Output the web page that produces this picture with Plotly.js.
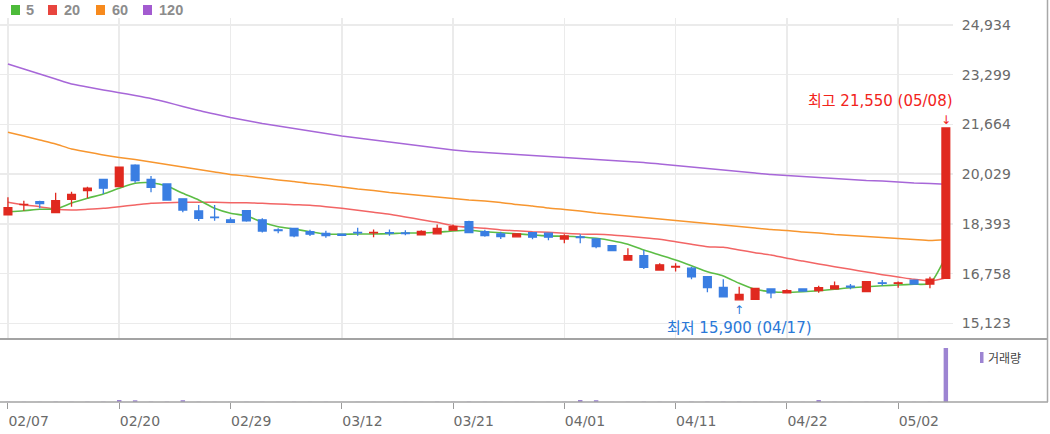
<!DOCTYPE html>
<html>
<head>
<meta charset="utf-8">
<script src="https://cdn.plot.ly/plotly-3.0.1.min.js"></script>
<style>
html,body{margin:0;padding:0;background:#fff;}
#chart{width:1050px;height:434px;}
</style>
</head>
<body>
<div id="chart"></div>
<script>
// ---------------- DATA ----------------
const dates = ['02/07','02/08','02/13','02/14','02/15','02/16','02/19','02/20','02/21','02/22',
  '02/23','02/26','02/27','02/28','02/29','03/04','03/05','03/06','03/07','03/08',
  '03/11','03/12','03/13','03/14','03/15','03/18','03/19','03/20','03/21','03/22',
  '03/25','03/26','03/27','03/28','03/29','04/01','04/02','04/03','04/04','04/05',
  '04/08','04/09','04/11','04/12','04/15','04/16','04/17','04/18','04/19','04/22',
  '04/23','04/24','04/25','04/26','04/29','04/30','05/02','05/03','05/07','05/08'];

const openP = [18690,19030,19130,18770,19200,19490,19860,19620,20330,19860,
  19710,19220,18820,18620,18530,18830,18530,18200,18250,18140,
  18080,18060,18120,18100,18110,18100,18040,18070,18190,18470,
  18140,18070,17970,18110,18090,17900,17970,17900,17680,17210,
  17350,16880,16980,16940,16660,16310,15900,15920,16260,16130,
  16260,16200,16260,16350,16170,16460,16440,16550,16420,16610];

const highP = [19270,19160,19160,19420,19450,19620,19860,20260,20360,19970,
  19710,19220,19020,19020,18610,18830,18580,18250,18250,18200,
  18170,18060,18270,18210,18210,18190,18190,18380,18380,18500,
  18200,18140,18070,18110,18100,18060,18060,17900,17680,17600,
  17540,17100,17100,16990,16660,16580,16330,16280,16270,16250,
  16260,16360,16500,16420,16500,16550,16500,16550,16660,21550];

const lowP = [18690,18830,18910,18770,18960,19240,19380,19620,19750,19440,
  19180,18780,18490,18500,18450,18470,18110,18090,17960,18000,
  17940,18020,18010,17960,18010,18020,18030,18070,18190,18110,
  17970,17900,17960,17890,17860,17760,17760,17600,17520,17210,
  16910,16880,16830,16580,16150,16000,15900,15920,15950,16120,
  16190,16130,16260,16250,16170,16360,16300,16410,16280,16610];

const closeP = [18930,19040,19060,19160,19370,19570,19570,20260,19820,19600,
  19180,18850,18580,18600,18450,18500,18160,18180,18000,18060,
  18010,18020,18100,18120,18090,18080,18150,18250,18310,18110,
  18010,17980,18070,17960,17960,18000,17950,17650,17520,17350,
  16970,17050,17000,16660,16300,16000,16080,16280,16130,16200,
  16190,16300,16360,16320,16500,16440,16460,16420,16580,21550];

const volume = [12000,8000,6000,14000,9000,11000,13000,110000,95000,15000,
  12000,100000,9000,7000,6000,8000,10000,5000,9000,6000,
  7000,4000,6000,5000,4000,5000,6000,11000,9000,12000,
  8000,6000,5000,7000,6000,9000,110000,100000,8000,10000,
  14000,9000,8000,12000,15000,13000,11000,10000,7000,6000,
  5000,110000,8000,6000,9000,5000,6000,5000,9000,3000000];

const ma5 = [18798,18831,18877,18886,19080,19238,19380,19567,19731,19751,
  19642,19402,19182,18909,18745,18666,18449,18304,18229,18140,
  18064,18055,18064,18064,18074,18097,18097,18120,18163,18186,
  18140,18107,18074,18031,17999,17989,17966,17923,17844,17726,
  17538,17374,17210,17022,16825,16684,16444,16247,16168,16148,
  16168,16201,16247,16299,16332,16365,16388,16411,16444,17330];

const ma20 = [19106,19018,18962,18877,18853,18877,18909,18962,19018,19074,
  19093,19106,19106,19106,19093,19093,19074,19051,19028,19008,
  18962,18909,18843,18778,18712,18623,18535,18449,18337,18285,
  18252,18196,18173,18140,18120,18087,18064,18055,18031,17989,
  17943,17890,17811,17726,17647,17627,17538,17450,17374,17266,
  17177,17078,16990,16904,16815,16727,16651,16575,16520,16618];

const ma60 = [21407,21286,21154,21023,20858,20760,20661,20579,20513,20431,
  20349,20267,20185,20102,20020,19971,19905,19839,19790,19724,
  19675,19609,19544,19494,19429,19379,19330,19281,19231,19182,
  19149,19100,19034,18985,18919,18870,18820,18755,18705,18656,
  18607,18558,18508,18459,18410,18360,18311,18262,18212,18180,
  18130,18097,18048,18015,17982,17949,17917,17884,17851,17884];

const ma120 = [23652,23488,23324,23159,22995,22896,22798,22709,22617,22518,
  22393,22255,22124,22009,21894,21795,21697,21614,21532,21450,
  21368,21286,21220,21154,21088,21023,20957,20891,20826,20776,
  20743,20710,20678,20645,20612,20579,20546,20513,20480,20448,
  20415,20365,20316,20267,20217,20168,20119,20070,20020,19987,
  19954,19922,19889,19856,19823,19806,19774,19741,19724,19698];

const xTicks = ['02/07','02/20','02/29','03/12','03/21','04/01','04/11','04/22','05/02'];
const yTicks = [15123,16758,18393,20029,21664,23299,24934];

const maNames = ['5','20','60','120'];
const maColors = ['#5cbd45','#f26565','#f7962f','#a767d8'];
const legendColors = ['#4dbb3a','#e8453e','#f78a1d','#a35bd0'];

const hiDate = '05/08', hiValue = 21550, hiText = '최고 21,550 (05/08)';
const loDate = '04/17', loValue = 15900, loText = '최저 15,900 (04/17)';
const volName = '거래량';

// ---------------- LAYOUT HELPERS ----------------
const W = 1050, H = 434;
const mL = 0, mR = 97, mT = 18, mB = 32;
const pw = W - mL - mR, ph = H - mT - mB;
const PX = x => (x - mL) / pw;
const PY = y => (H - mB - y) / ph;

const yMain = [14646, 25164];
const volMax = 3389000;

const upColor = '#e0291f', downColor = '#3a7ee2';
const gridColor = '#ebebeb';
const tickFont = {family: 'DejaVu Sans, Noto Sans CJK KR', size: 14, color: '#6a6a6a'};

const traces = [];
[ma120, ma60, ma20, ma5].forEach((arr, k) => {
  const idx = 3 - k;
  traces.push({
    type: 'scatter', mode: 'lines', x: dates, y: arr, xaxis: 'x', yaxis: 'y',
    name: maNames[idx], line: {color: maColors[idx], width: idx === 0 ? 1.6 : 1.5, shape: 'spline', smoothing: 0.6},
    hoverinfo: 'skip', showlegend: false
  });
});
traces.push({
  type: 'candlestick', x: dates, open: openP, high: highP, low: lowP, close: closeP,
  xaxis: 'x', yaxis: 'y3', showlegend: false, whiskerwidth: 0,
  increasing: {line: {color: upColor, width: 1.3}, fillcolor: upColor},
  decreasing: {line: {color: downColor, width: 1.3}, fillcolor: downColor},
  hoverinfo: 'skip'
});
traces.push({
  type: 'bar', x: dates, y: volume, xaxis: 'x2', yaxis: 'y2', width: 0.28,
  marker: {color: '#9d84d2', line: {width: 0}}, showlegend: false, hoverinfo: 'skip'
});

const shapes = [
  {type: 'line', xref: 'paper', yref: 'paper', x0: 0, x1: PX(1048), y0: PY(339), y1: PY(339), line: {color: '#a3a3a3', width: 2}},
  {type: 'line', xref: 'paper', yref: 'paper', x0: 0, x1: PX(1048), y0: PY(402), y1: PY(402), line: {color: '#a3a3a3', width: 1.5}},
  {type: 'line', xref: 'paper', yref: 'paper', x0: PX(1047.5), x1: PX(1047.5), y0: PY(0), y1: PY(402), line: {color: '#a8a8a8', width: 1.5}},
  {type: 'rect', xref: 'paper', yref: 'paper', x0: PX(980), x1: PX(983.5), y0: PY(363), y1: PY(352), line: {width: 0}, fillcolor: '#9d84d2'}
];
const legX = [11, 48, 96, 143];
const legTX = [24, 62, 110, 157];
const annotations = [];
maNames.forEach((n, i) => {
  shapes.push({type: 'rect', xref: 'paper', yref: 'paper', x0: PX(legX[i]), x1: PX(legX[i] + 9),
    y0: PY(15), y1: PY(5), line: {width: 0}, fillcolor: legendColors[i]});
  annotations.push({xref: 'paper', yref: 'paper', x: PX(legTX[i]), y: PY(10), xanchor: 'left', yanchor: 'middle',
    text: '<b>' + n + '</b>', showarrow: false, font: {family: 'Liberation Sans, Arial', size: 14.5, color: '#8c8c8c'}});
});
annotations.push({xref: 'paper', yref: 'paper', x: PX(986), y: PY(357.5), xanchor: 'left', yanchor: 'middle',
  text: volName, showarrow: false, font: {family: 'Noto Sans CJK KR', size: 12, color: '#444'}});

const annFont = (c, s) => ({family: 'DejaVu Sans, Noto Sans CJK KR', size: s, color: c});
annotations.push({xref: 'x', yref: 'y', x: hiDate, y: hiValue, text: hiText, showarrow: false,
  xanchor: 'right', yanchor: 'bottom', xshift: 9, yshift: 16, font: annFont('#f2231b', 15)});
annotations.push({xref: 'x', yref: 'y', x: hiDate, y: hiValue, text: '↓', showarrow: false,
  xanchor: 'center', yanchor: 'bottom', yshift: 0, borderpad: 0, font: annFont('#f2231b', 12)});
annotations.push({xref: 'x', yref: 'y', x: loDate, y: loValue, text: '↑', showarrow: false,
  xanchor: 'center', yanchor: 'top', yshift: -2, borderpad: 0, font: annFont('#2a78d8', 12)});
annotations.push({xref: 'x', yref: 'y', x: loDate, y: loValue, text: loText, showarrow: false,
  xanchor: 'center', yanchor: 'top', yshift: -18, borderpad: 0, font: annFont('#2a78d8', 15)});

const layout = {
  width: W, height: H,
  margin: {l: mL, r: mR, t: mT, b: mB, pad: 0},
  paper_bgcolor: '#fff', plot_bgcolor: 'rgba(0,0,0,0)',
  showlegend: false,
  boxgap: 0.3, boxgroupgap: 0.3,
  xaxis: {type: 'category', range: [-0.5, 59.45], anchor: 'y', domain: [0, 1],
    tickmode: 'array', tickvals: xTicks, showticklabels: false, ticks: '',
    showgrid: true, gridcolor: gridColor, gridwidth: 1.5, zeroline: false, showline: false,
    rangeslider: {visible: false}, fixedrange: true},
  xaxis2: {type: 'category', matches: 'x', anchor: 'y2', domain: [0, 1],
    tickmode: 'array', tickvals: xTicks, ticktext: xTicks, ticks: 'outside', ticklen: 6, tickcolor: '#9a9a9a',
    ticklabelposition: 'outside right', ticklabelstandoff: 6, tickfont: tickFont,
    showgrid: false, zeroline: false, showline: false},
  yaxis: {domain: [PY(338), 1], range: yMain, side: 'right', anchor: 'x',
    tickmode: 'array', tickvals: yTicks, tickformat: ',d', tickfont: tickFont,
    ticks: 'outside', ticklen: 5, tickcolor: 'rgba(0,0,0,0)',
    showgrid: true, gridcolor: gridColor, gridwidth: 1.5, zeroline: false, showline: false, fixedrange: true},
  yaxis2: {domain: [0, PY(341)], range: [0, volMax], anchor: 'x2',
    showticklabels: false, ticks: '', showgrid: false, zeroline: false, showline: false},
  yaxis3: {overlaying: 'y', anchor: 'x', side: 'right', range: yMain, visible: false,
    showgrid: false, zeroline: false},
  shapes: shapes,
  annotations: annotations
};

Plotly.newPlot('chart', traces, layout, {displayModeBar: false, staticPlot: true});
</script>
</body>
</html>
